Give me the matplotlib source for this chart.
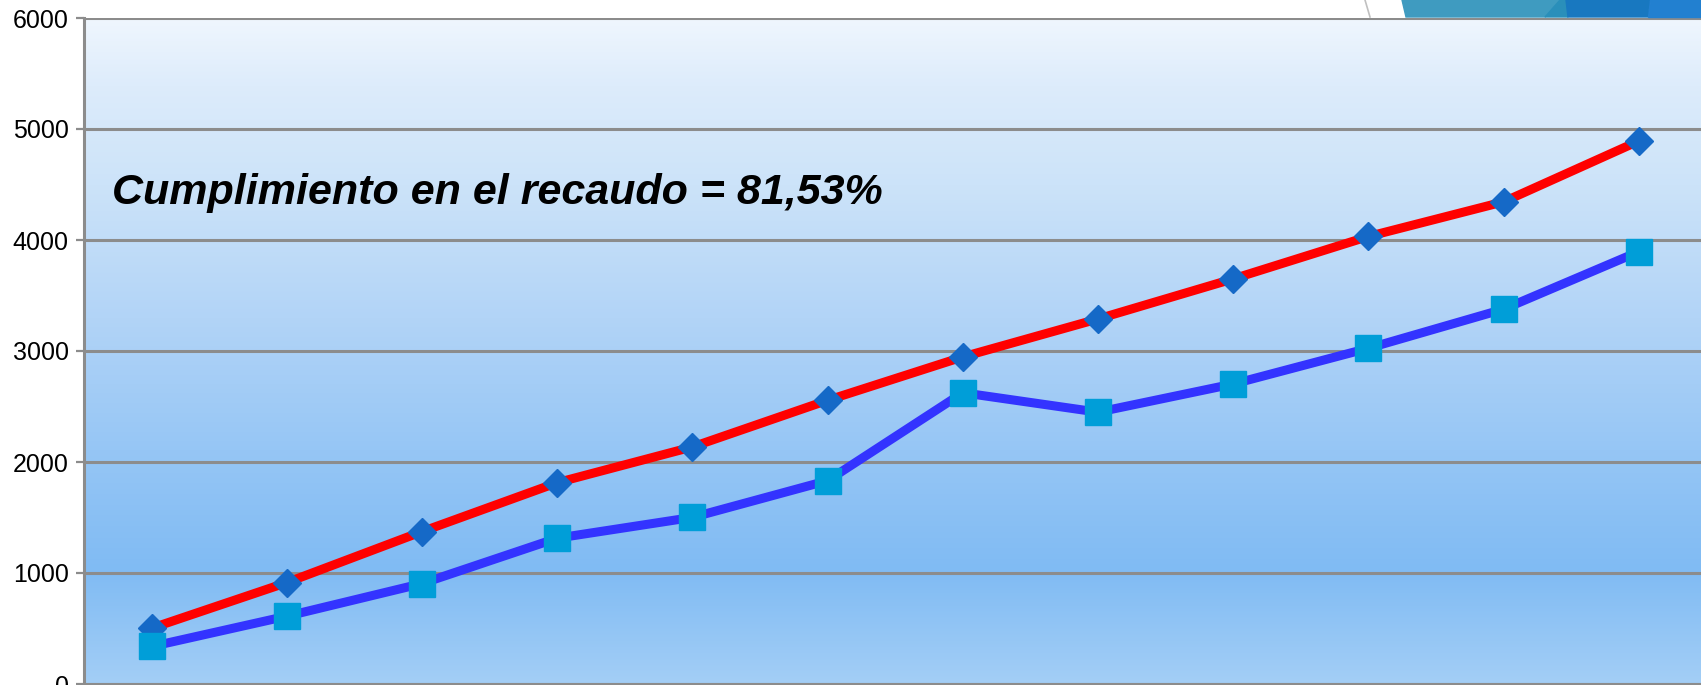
import numpy as np
import matplotlib.pyplot as plt
from matplotlib.colors import LinearSegmentedColormap
from matplotlib.patches import Polygon

# monthly values (12 points)
meses = list(range(1, 13))
proyectado = [503, 914, 1373, 1814, 2136, 2556, 2947, 3289, 3650, 4032, 4344, 4892]
recaudado = [338, 611, 905, 1314, 1501, 1832, 2624, 2449, 2703, 3025, 3377, 3895]
yticks = [0, 1000, 2000, 3000, 4000, 5000, 6000]
texto = 'Cumplimiento en el recaudo = 81,53%'

plt.rcParams['font.family'] = ['Liberation Sans', 'DejaVu Sans']

W, H = 1701, 685
fig = plt.figure(figsize=(W / 100, H / 100), dpi=100)
ax = fig.add_axes([84 / W, 1 / H, (W - 84) / W, 666 / H])

x = np.arange(len(meses))
ax.set_xlim(-0.5, 11.46)
ax.set_ylim(0, 6000)

# background gradient (light at top, deeper blue near bottom)
grad = LinearSegmentedColormap.from_list('bg', [
    (0.0, '#A3CEF6'), (0.17, '#80BBF3'), (0.35, '#96C6F5'),
    (0.55, '#B2D4F7'), (0.75, '#CCE3F9'), (0.9, '#DDECFB'), (1.0, '#EFF6FE')])
ax.imshow(np.linspace(0, 1, 256).reshape(-1, 1), cmap=grad, aspect='auto',
          extent=[-0.5, 11.46, 0, 6000], origin='lower', zorder=0)

ax.set_yticks(yticks)
ax.set_xticks([])
ax.yaxis.grid(True, color='#8C8C8C', linewidth=2.2)
ax.set_axisbelow(False)
ax.tick_params(axis='y', length=6, width=1.6, color='#8C8C8C', pad=5, labelsize=18)
for s in ['top', 'right']:
    ax.spines[s].set_visible(False)
for s in ['left', 'bottom']:
    ax.spines[s].set_color('#8C8C8C')
    ax.spines[s].set_linewidth(2.2)

ax.plot(x, proyectado, color='#FF0000', linewidth=6.5, marker='D', markersize=14,
        markerfacecolor='#1569C7', markeredgecolor='#1569C7', zorder=3)
ax.plot(x, recaudado, color='#3333FF', linewidth=6.5, marker='s', markersize=19,
        markerfacecolor='#009ED8', markeredgecolor='#009ED8', zorder=3)

fig.text(112 / W, 1 - 193 / H, texto, fontsize=31, fontweight='bold', fontstyle='italic',
         va='center', ha='left')

# slide decoration peeking above the chart (top right)
def px(pts):
    return [(a / W, 1 - b / H) for a, b in pts]

fig.add_artist(plt.Line2D([1365 / W, 1370 / W], [1, 1 - 17 / H], color='#C0C0C0', linewidth=1.2))
fig.add_artist(Polygon(px([(1402, 0), (1560, 0), (1545, 17), (1406, 17)]), closed=True, color='#3F9BC0'))
fig.add_artist(Polygon(px([(1560, 0), (1566, 0), (1568, 17), (1545, 17)]), closed=True, color='#2A8FBA'))
fig.add_artist(Polygon(px([(1566, 0), (1650, 0), (1648, 17), (1568, 17)]), closed=True, color='#1878C0'))
fig.add_artist(Polygon(px([(1650, 0), (1701, 0), (1701, 17), (1648, 17)]), closed=True, color='#2280D0'))

fig.savefig('out.png', dpi=100)
